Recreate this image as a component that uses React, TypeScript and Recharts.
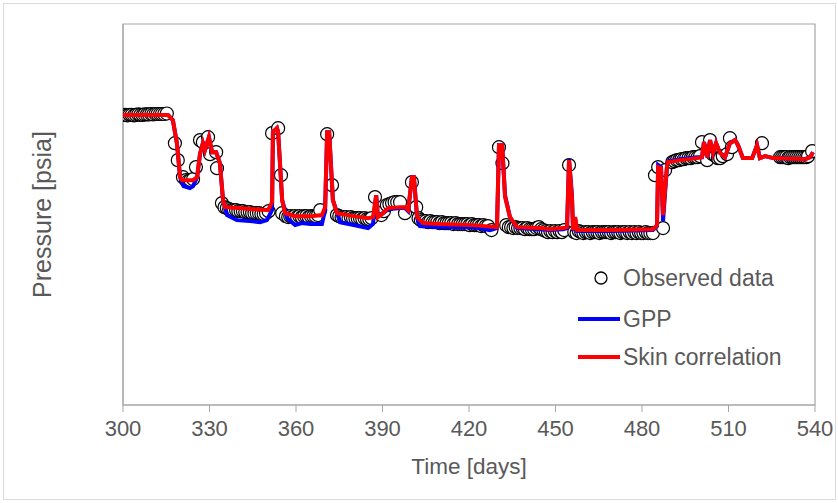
import React from 'react';
import { ComposedChart, Line, XAxis, YAxis, ReferenceArea } from 'recharts';

// [day, pressure psia]
const observed = [
  [300, 4030], [300.8, 4030], [301.5, 4025], [302.3, 4030], [303, 4030], [303.8, 4025], [304.5, 4030], [305.3, 4035],
  [306, 4030], [306.8, 4030], [307.5, 4035], [308.3, 4035], [309, 4035], [309.8, 4040], [310.5, 4035], [311.3, 4040],
  [312, 4040], [312.8, 4040], [313.5, 4040], [314.3, 4040], [315.2, 4045],
  [318, 3735], [319, 3558], [320.8, 3380], [321.8, 3349], [322.6, 3340], [323.4, 3349], [324.3, 3360], [325.3, 3485],
  [326.7, 3767], [327.7, 3746], [329.5, 3798], [330.2, 3620], [332.3, 3641], [332.6, 3474], [334.3, 3109],
  [335.2, 3067], [336, 3057], [336.8, 3046], [337.6, 3036], [338.4, 3036], [339.2, 3036], [340, 3025], [340.8, 3025],
  [341.6, 3025], [342.4, 3015], [343.2, 3015], [344, 3015], [344.8, 3004], [345.6, 3004], [346.4, 3004], [347.2, 3004],
  [348, 2994], [348.8, 2994], [349.6, 3004], [350.5, 3025],
  [351.7, 3840], [353.8, 3892], [354.8, 3401], [355.2, 3004],
  [356.5, 2973], [357.3, 2963], [358, 2973], [358.8, 2963], [359.6, 2973], [360.4, 2963], [361.2, 2973], [362, 2963],
  [362.8, 2973], [363.6, 2973], [364.4, 2963], [365.2, 2973], [366, 2973], [366.8, 2973], [367.6, 2984], [368.4, 3036],
  [370.8, 3829], [372.5, 3297],
  [374.2, 2984], [375, 2973], [375.8, 2963], [376.6, 2963], [377.4, 2963], [378.2, 2952], [379, 2963], [379.8, 2952],
  [380.6, 2952], [381.4, 2952], [382.2, 2952], [383, 2942], [383.8, 2952], [384.6, 2942], [385.4, 2942], [386.2, 2952],
  [387.4, 3172],
  [389.6, 2984], [390.5, 3025], [391.5, 3088], [392.4, 3098], [393.3, 3109], [394.2, 3119], [395.1, 3119], [396.1, 3119],
  [397.8, 3004], [400.2, 3328], [401.7, 3067],
  [402.5, 2952], [403.3, 2931], [404.1, 2920], [405, 2920], [405.8, 2910], [406.6, 2920], [407.4, 2910], [408.2, 2910],
  [409, 2910], [409.8, 2900], [410.6, 2910], [411.4, 2900], [412.2, 2900], [413, 2900], [413.8, 2900], [414.6, 2890],
  [415.4, 2900], [416.2, 2890], [417, 2890], [417.8, 2890], [418.6, 2890], [419.4, 2890], [420.2, 2879], [421, 2890],
  [421.8, 2879], [422.6, 2879], [423.4, 2879], [424.2, 2869], [425, 2879], [425.8, 2869], [426.6, 2869], [427.8, 2827],
  [430.4, 3693], [431.6, 3526], [432.9, 2879],
  [433.8, 2858], [434.6, 2858], [435.4, 2848], [436.2, 2858], [437, 2848], [437.8, 2848], [438.6, 2848], [439.4, 2837],
  [440.2, 2848], [441, 2837], [441.8, 2837], [442.6, 2837], [443.4, 2848], [444.2, 2858], [445, 2837], [445.8, 2827],
  [446.6, 2817], [447.4, 2806], [448.2, 2817], [449, 2806], [449.8, 2817], [450.6, 2806], [451.4, 2817], [452.2, 2806],
  [453, 2827],
  [454.7, 3506],
  [456.5, 2806], [457.3, 2796], [458.1, 2817], [458.9, 2806], [459.7, 2796], [460.5, 2806], [461.3, 2806], [462.1, 2796],
  [462.9, 2806], [463.7, 2806], [464.5, 2806], [465.3, 2796], [466.1, 2806], [466.9, 2806], [467.7, 2806], [468.5, 2806],
  [469.3, 2796], [470.1, 2806], [470.9, 2806], [471.7, 2806], [472.5, 2796], [473.3, 2806], [474.1, 2806], [474.9, 2796],
  [475.7, 2806], [476.5, 2796], [477.3, 2806], [478.1, 2796], [478.9, 2806], [479.7, 2796], [480.5, 2796], [481.3, 2806],
  [482.1, 2796], [482.9, 2796], [483.8, 2796],
  [484.5, 3401], [485.6, 3485], [487.3, 2848], [488, 3453],
  [490.5, 3537], [491.3, 3547], [492.1, 3558], [492.9, 3558], [493.7, 3568], [494.5, 3568], [495.3, 3579], [496.1, 3579],
  [496.9, 3579], [497.7, 3589], [498.5, 3589], [499.3, 3589], [500.1, 3600], [500.8, 3746], [502.6, 3558], [503.6, 3767],
  [504.5, 3620], [505.5, 3600], [506.3, 3579], [507.1, 3579], [508, 3600], [509.5, 3620], [510.5, 3787], [511.2, 3693],
  [521.6, 3735],
  [527.9, 3589], [528.6, 3589], [529.3, 3589], [530, 3589], [530.7, 3579], [531.4, 3589], [532.1, 3589], [532.8, 3589],
  [533.5, 3589], [534.2, 3589], [534.9, 3589], [535.6, 3589], [536.3, 3589], [537, 3589], [537.6, 3600], [539, 3652],
];

const gpp = [
  [300, 4030], [315.6, 4030], [317.3, 3975], [318.7, 3735], [319.8, 3380], [321, 3286], [323.2, 3265], [324.3, 3286],
  [325.7, 3380], [326.7, 3620], [327.7, 3735], [328.4, 3662], [329.8, 3798], [330.9, 3641], [332.3, 3641], [333.6, 3526],
  [334.7, 3140], [336.1, 2984], [339.5, 2931], [345, 2920], [347.5, 2910], [349.9, 2931], [351.7, 3036], [352, 3850],
  [353.4, 3892], [353.8, 3850], [355.2, 3140], [356.9, 2952], [359.7, 2879], [362, 2900], [365, 2890], [369, 2890],
  [370.1, 3036], [370.8, 3850], [371.5, 3850], [372.8, 3140], [375.3, 2910], [380, 2880], [385, 2848], [386.7, 2890],
  [387.8, 3192], [388.4, 2984], [390.2, 3004], [391.9, 3046], [396, 3057], [397.8, 3057], [398.9, 3025], [400.2, 3380],
  [400.9, 3380], [402, 2952], [403, 2869], [410, 2858], [421.4, 2858], [427.3, 2827], [429.7, 2848], [430.4, 3714],
  [431.5, 3714], [432.5, 3192], [434.2, 2963], [436.7, 2848], [444.6, 2837], [448.1, 2827], [452.6, 2837], [454, 2848],
  [454.7, 3568], [455.7, 3192], [456.1, 2817], [456.8, 2952], [457.5, 2817], [470, 2817], [483.8, 2827], [485.2, 2869],
  [485.6, 3506], [486.6, 3485], [487.3, 2920], [488.7, 3506], [489, 3547], [493.2, 3568], [499.1, 3589], [500.8, 3589],
  [501.5, 3746], [502.6, 3589], [503.6, 3767], [504.6, 3631], [505.7, 3735], [507.1, 3631], [508.8, 3589], [510.5, 3735],
  [512.3, 3767], [513.3, 3714], [515, 3579], [518.2, 3579], [519.9, 3714], [520.9, 3579], [522.7, 3600], [525.5, 3579],
  [536.6, 3568], [538.3, 3589], [539.3, 3641],
];

const skin = [
  [300, 4030], [315.6, 4030], [317.3, 3975], [318.7, 3735], [319.8, 3380], [320.5, 3349], [324.3, 3349], [325.7, 3380],
  [326.7, 3620], [327.7, 3735], [328.4, 3662], [329.8, 3798], [330.9, 3641], [332.3, 3641], [333.6, 3526], [334.7, 3140],
  [335.4, 3067], [340, 3057], [345, 3046], [350.3, 3036], [351.7, 3119], [352, 3850], [353.4, 3892], [353.8, 3850],
  [355.2, 3140], [356.2, 3004], [359.7, 2973], [365, 2973], [369, 2984], [370.1, 3067], [370.8, 3850], [371.5, 3850],
  [372.8, 3140], [374.2, 3004], [380, 2973], [385, 2952], [386.7, 2963], [387.8, 3192], [388.4, 2963], [390.2, 3004],
  [391.9, 3057], [396, 3067], [397.8, 3067], [398.9, 3036], [400.2, 3380], [400.9, 3380], [402, 2963], [404.1, 2900],
  [410, 2890], [421.4, 2879], [429.7, 2858], [430.4, 3714], [431.5, 3714], [432.5, 3172], [434.2, 2963], [436.7, 2858],
  [444.6, 2848], [448.1, 2837], [452.6, 2848], [454, 2858], [454.7, 3558], [455.7, 3172], [456.1, 2827], [456.8, 2963],
  [457.5, 2827], [470, 2827], [483.8, 2837], [485.2, 2879], [485.6, 3485], [486.6, 3474], [487.3, 2984], [488.7, 3506],
  [489, 3537], [493.2, 3558], [499.1, 3579], [500.8, 3589], [501.5, 3746], [502.6, 3589], [503.6, 3767], [504.6, 3631],
  [505.7, 3735], [507.1, 3631], [508.8, 3589], [510.5, 3735], [512.3, 3767], [513.3, 3714], [515, 3579], [518.2, 3579],
  [519.9, 3714], [520.9, 3579], [522.7, 3600], [525.5, 3579], [536.6, 3568], [538.3, 3589], [539.3, 3641],
];

const xTicks = [300, 330, 360, 390, 420, 450, 480, 510, 540];
const xDomain = [300, 540];
const yDomain = [1000, 4980];

const toRows = (pairs: number[][]) => pairs.map(([day, p]) => ({ day, p }));

const FONT = 'Liberation Sans, Arial, sans-serif';
const TEXT = '#595959';
const W = 838;
const H = 503;
const MARGIN = { top: 24, right: 23, left: 0, bottom: 23 };

const Ring = (props: any) => {
  const { cx, cy } = props;
  if (cx == null || cy == null) return null;
  return <circle key={props.index} cx={cx} cy={cy} r={6.5} fill="#fff" stroke="#000" strokeWidth={1.2} />;
};

const LegendBox = () => (
  <svg width={260} height={115} style={{ position: 'absolute', left: 570, top: 260, fontFamily: FONT }}>
    <circle cx={31} cy={18} r={6} fill="#fff" stroke="#000" strokeWidth={1.3} />
    <text x={53} y={18} fontSize={23} fill={TEXT} dominantBaseline="central">Observed data</text>
    <line x1={8} x2={50} y1={59} y2={59} stroke="#0000ff" strokeWidth={4} />
    <text x={53} y={59} fontSize={23} fill={TEXT} dominantBaseline="central">GPP</text>
    <line x1={8} x2={50} y1={97} y2={97} stroke="#ff0000" strokeWidth={4} />
    <text x={53} y={97} fontSize={23} fill={TEXT} dominantBaseline="central">Skin correlation</text>
  </svg>
);

export default function App() {
  return (
    <div style={{ position: 'absolute', left: 0, top: 0, width: W, height: H, background: '#fff' }}>
      <div style={{ position: 'absolute', left: 3, top: 3, width: 831, height: 495, border: '1px solid #d9d9d9' }} />
      {/* base chart: frame, axes and observed data */}
      <div style={{ position: 'absolute', left: 0, top: 0 }}>
        <ComposedChart width={W} height={H} margin={MARGIN} style={{ fontFamily: FONT }}>
          <XAxis
            dataKey="day"
            type="number"
            domain={xDomain}
            ticks={xTicks}
            allowDataOverflow
            stroke="#a6a6a6"
            tickSize={7}
            tickMargin={8}
            tick={{ fill: TEXT, fontSize: 22 }}
            height={75}
            label={{ value: 'Time [days]', position: 'insideBottom', offset: 6, fill: TEXT, fontSize: 22.5 }}
          />
          <YAxis
            type="number"
            domain={yDomain}
            width={123}
            tick={false}
            tickLine={false}
            stroke="#a6a6a6"
            label={{ value: 'Pressure [psia]', angle: -90, position: 'center', dx: -19, fill: TEXT, fontSize: 25 }}
          />
          <ReferenceArea x1={300} x2={540} y1={1000} y2={4980} fill="none" stroke="#a6a6a6" strokeWidth={1.2} ifOverflow="visible" />
          <Line data={toRows(observed)} dataKey="p" type="linear" stroke="none" strokeWidth={0} dot={<Ring />} activeDot={false} isAnimationActive={false} />
        </ComposedChart>
      </div>
      {/* overlay chart: model lines drawn above the observed circles */}
      <div style={{ position: 'absolute', left: 0, top: 0 }}>
        <ComposedChart width={W} height={H} margin={MARGIN}>
          <XAxis dataKey="day" type="number" domain={xDomain} ticks={xTicks} allowDataOverflow height={75} tick={false} tickLine={false} axisLine={false} />
          <YAxis type="number" domain={yDomain} width={123} tick={false} tickLine={false} axisLine={false} />
          <Line data={toRows(gpp)} dataKey="p" type="linear" stroke="#0000ff" strokeWidth={4} dot={false} isAnimationActive={false} />
          <Line data={toRows(skin)} dataKey="p" type="linear" stroke="#ff0000" strokeWidth={4} dot={false} isAnimationActive={false} />
        </ComposedChart>
      </div>
      <LegendBox />
    </div>
  );
}
